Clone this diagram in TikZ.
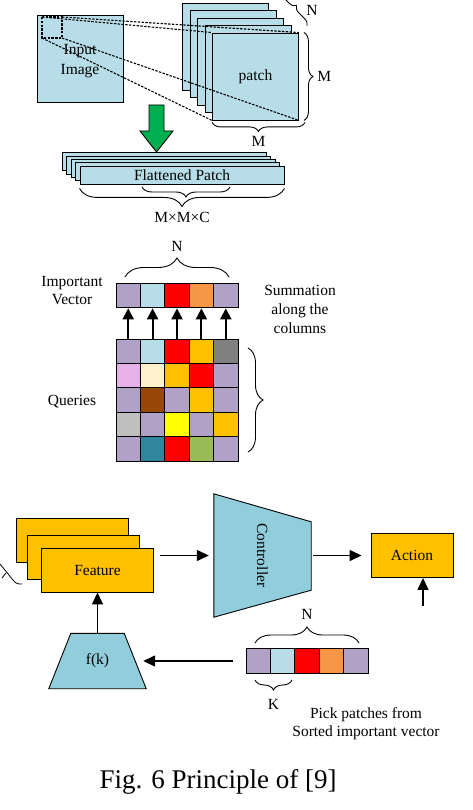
\documentclass[tikz,border=0pt]{standalone}
\usepackage{fontspec}
\setmainfont{Liberation Serif}
\usepackage{xcolor}
\definecolor{patchblue}{RGB}{183,222,232}
\definecolor{ctrlblue}{RGB}{146,205,220}
\definecolor{featgold}{RGB}{255,192,0}
\definecolor{arrgreen}{RGB}{0,176,80}
\definecolor{cpu}{RGB}{178,161,199}
\definecolor{clb}{RGB}{183,222,232}
\definecolor{crd}{RGB}{255,0,0}
\definecolor{cor}{RGB}{247,150,70}
\definecolor{cgo}{RGB}{255,192,0}
\definecolor{cgy}{RGB}{128,128,128}
\definecolor{cpk}{RGB}{230,176,234}
\definecolor{ccr}{RGB}{255,242,204}
\definecolor{cbr}{RGB}{151,71,6}
\definecolor{clg}{RGB}{191,191,191}
\definecolor{cye}{RGB}{255,255,0}
\definecolor{ctl}{RGB}{49,133,156}
\definecolor{cgn}{RGB}{155,187,89}
\usetikzlibrary{arrows.meta,decorations.pathreplacing,positioning}

\begin{document}
\begin{tikzpicture}[x=1pt, y=-1pt,
  txt/.style={font=\fontsize{15.5}{18}\selectfont, align=center, inner sep=3pt},
  imgbox/.style={rectangle, draw, line width=0.9pt, fill=patchblue, minimum width=86pt,
                 minimum height=87pt, inner sep=1pt, txt},
  flatbox/.style={rectangle, draw, line width=0.9pt, fill=patchblue, minimum width=204pt,
                  minimum height=18pt, inner sep=0pt, txt},
  featbox/.style={rectangle, draw, line width=0.9pt, fill=featgold, minimum width=112pt,
                  minimum height=44pt, inner sep=1pt, txt},
  cell/.style={rectangle, draw, line width=0.9pt, minimum width=24.4pt,
               minimum height=24.4pt, inner sep=0pt},
  trap/.style={draw, line width=0.9pt, fill=ctrlblue},
  dsh/.style={dash pattern=on 2.4pt off 1.4pt, line width=1.1pt},
  brc/.style={decorate, line width=0.9pt},
  arr/.style={-{Triangle[length=12pt,width=11pt]}, line width=1.4pt},
  uparr/.style={-{Triangle[length=11pt,width=11pt]}, line width=2pt}
]
\useasboundingbox (0,0) rectangle (473,810);

%% input image and patches
\node[imgbox] (img) at (80,58.5) {};
\foreach \i in {4,3,2,1}
  \node[imgbox] (p-\i) at ({255.5-7.5*\i},{76.5-7.5*\i}) {};
\node[imgbox] (p-0) at (255.5,76.5) {patch};

\coordinate (s-tl) at (42,17);
\coordinate (s-br) at (62,38);
\draw[dsh] (s-tl) rectangle (s-br);
\draw[dsh] (s-tl) -- (p-0.north west);
\draw[dsh] (s-tl -| s-br) -- (p-0.north east);
\draw[dsh] (s-tl |- s-br) -- (p-0.south west);
\draw[dsh] (s-br) -- (p-0.south east);
\node[txt] (imglbl) at (80,61) {Input\\[2pt]Image};

\draw[brc, decoration={brace, amplitude=7pt}] (276,-5) -- (307,26);
\node[txt] (nt) at (312,10) {N};
\draw[brc, decoration={brace, amplitude=9pt}]
  ([xshift=5pt]p-0.north east) -- node[txt, right=10pt] (mr) {M} ([xshift=5pt]p-0.south east);
\draw[brc, decoration={brace, amplitude=9pt}]
  ([xshift=6pt,yshift=-2pt]p-0.south east) -- node[txt, below=10pt] (mb) {M} ([yshift=-2pt]p-0.south west);

%% flatten
\draw[line width=0.9pt, fill=arrgreen] (149,105) -- (164,105) -- (164,131) -- (173,131)
  -- (156.5,152) -- (140,131) -- (149,131) -- cycle;
\foreach \i in {4,3,2,1}
  \node[flatbox] (fl-\i) at ({182-4.5*\i},{175-3.3*\i}) {};
\node[flatbox] (fl-0) at (182,175) {Flattened Patch};
\draw[brc, decoration={brace, amplitude=18pt}]
  ([yshift=-4pt]fl-0.south east) -- node[txt, below=20pt] (mmc) {M×M×C} ([yshift=-4pt]fl-0.south west);
\draw[brc, decoration={brace, amplitude=10pt}] (230,187) -- (142,187);

%% important vector
\foreach \col [count=\c] in {cpu,clb,crd,cor,cpu}
  \node[cell, fill=\col] (iv-\c) at ({103.8+24.4*\c},295.7) {};
\foreach \col [count=\c] in {cpu,clb,crd,cgo,cgy}
  \node[cell, fill=\col] (q-1-\c) at ({103.8+24.4*\c},351.2) {};
\foreach \col [count=\c] in {cpk,ccr,cgo,crd,cpu}
  \node[cell, fill=\col] (q-2-\c) at ({103.8+24.4*\c},375.6) {};
\foreach \col [count=\c] in {cpu,cbr,cpu,cgo,cpu}
  \node[cell, fill=\col] (q-3-\c) at ({103.8+24.4*\c},400) {};
\foreach \col [count=\c] in {clg,cpu,cye,cpu,cgo}
  \node[cell, fill=\col] (q-4-\c) at ({103.8+24.4*\c},424.4) {};
\foreach \col [count=\c] in {cpu,ctl,crd,cgn,cpu}
  \node[cell, fill=\col] (q-5-\c) at ({103.8+24.4*\c},448.8) {};
\foreach \c in {1,...,5}
  \draw[uparr] (q-1-\c.north) -- (iv-\c.south);

\draw[brc, decoration={brace, amplitude=19pt}]
  (125,277) -- node[txt, above=22pt] (niv) {N} (229,277);
\draw[brc, decoration={brace, amplitude=15pt}] (248,348) -- (248,452);

\node[txt] (ivlbl) at (72,291) {Important\\Vector};
\node[txt] (qlbl) at (72,402) {Queries};
\node[txt, font=\fontsize{15.5}{19}\selectfont] (sumlbl) at (300,309)
  {Summation\\along the\\columns};

%% controller loop
\node[featbox] (f-3) at (72,540.5) {};
\node[featbox] (f-2) at (83,557) {};
\node[featbox] (feat) at (97.5,570) {Feature};
\draw[line width=0.8pt] (0,564) -- (13,580) .. controls (16,584) and (18,584) .. (22,584);
\draw[line width=0.8pt] (2,578) -- (6,573);

\node[minimum width=97pt, minimum height=123pt] (ctrl) at (262.5,555.5) {};
\draw[trap] (ctrl.north west) -- ([yshift=-28pt]ctrl.north east)
  -- ([yshift=27pt]ctrl.south east) -- (ctrl.south west) -- cycle;
\node[txt, rotate=-90] (ctrllbl) at (ctrl) {Controller};

\node[featbox, minimum width=82pt] (act) at (412,555.5) {Action};
\coordinate (actin) at (423,606);

\node[minimum width=97pt, minimum height=55pt] (fk) at (97.5,661) {};
\draw[trap] (fk.south west) -- ([xshift=22pt]fk.north west)
  -- ([xshift=-22pt]fk.north east) -- (fk.south east) -- cycle;
\node[txt] (fklbl) at (fk) {f(k)};

\foreach \col [count=\c] in {cpu,clb,crd,cor,cpu}
  \node[cell, fill=\col] (bv-\c) at ({233.8+24.4*\c},661) {};
\draw[brc, decoration={brace, amplitude=16pt}]
  (255,643) -- node[txt, above=20pt] (nbv) {N} (359,643);
\draw[brc, decoration={brace, amplitude=10pt}]
  (292,680) -- node[txt, below=16pt] (kbv) {K} (255,680);
\node[txt] (picklbl) at (366,723.5) {Pick patches from\\Sorted important vector};

\draw[arr, shorten <=6pt, shorten >=5pt] (feat.east |- ctrl.west) -- (ctrl.west);
\draw[arr, shorten <=2pt, shorten >=9pt] (ctrl.east) -- (act.west);
\draw[arr] (actin) -- (actin |- act.south);
\draw[arr] (fk.north) -- (feat.south);
\draw[arr, shorten <=13pt, shorten >=-3pt] (bv-1.west) -- (fk.east);

\node[font=\fontsize{27}{30}\selectfont] (cap) at (218,782) {Fig. 6 Principle of [9]};
\end{tikzpicture}
\end{document}
